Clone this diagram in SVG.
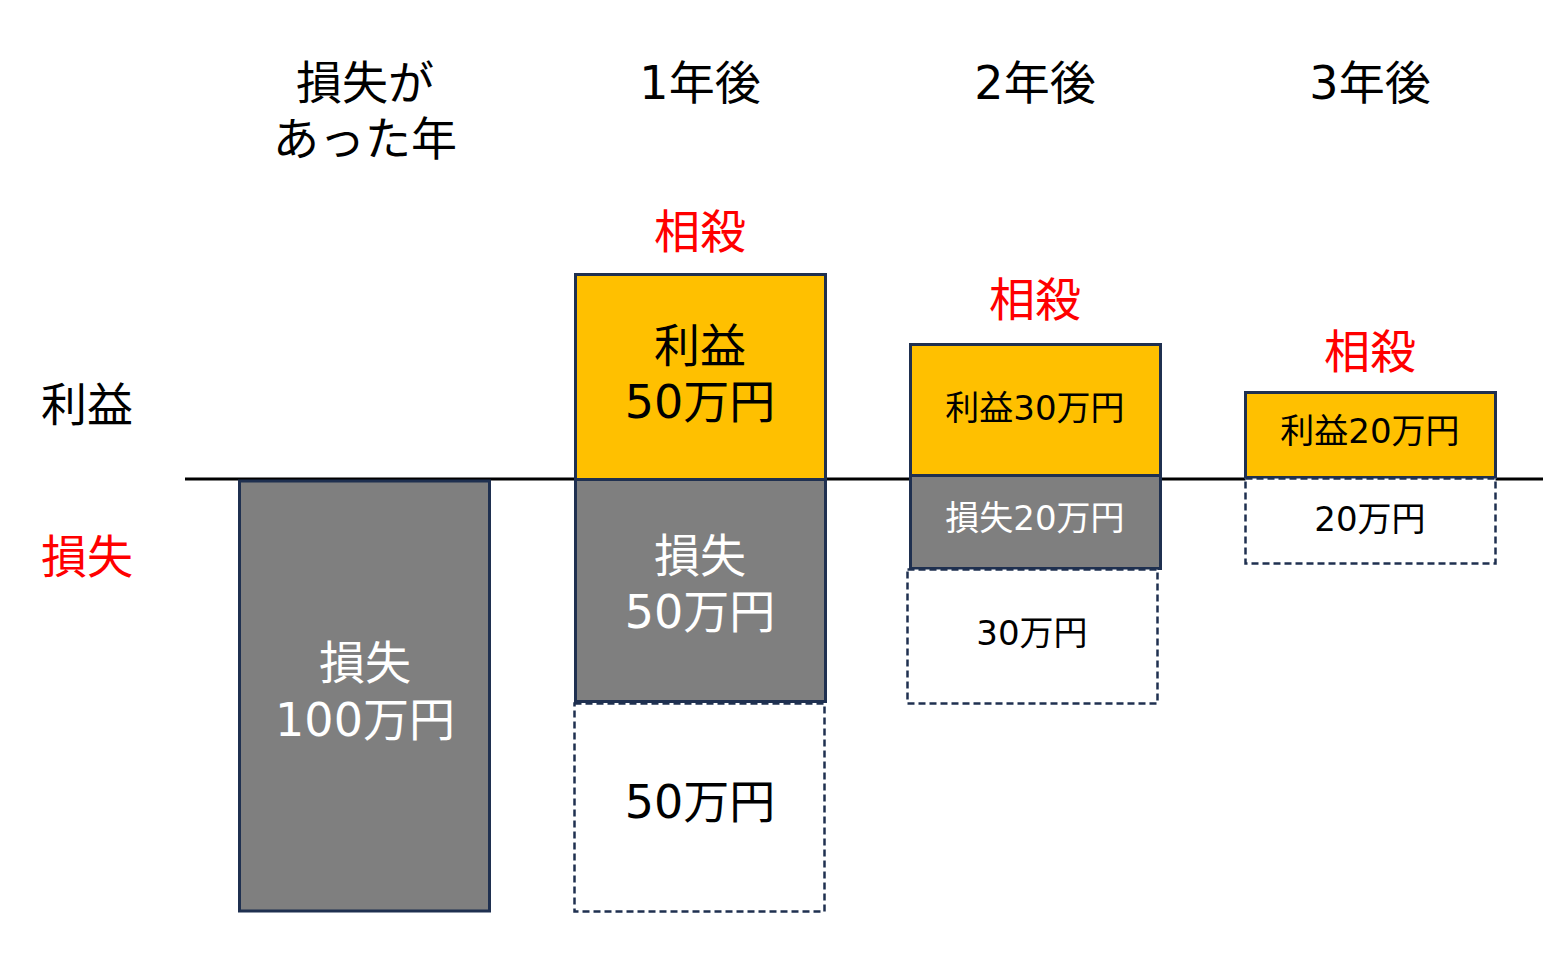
<svg xmlns="http://www.w3.org/2000/svg" width="1568" height="972" viewBox="0 0 1568 972">
<style>
text{font-family:"DejaVu Sans","Noto Sans CJK JP",sans-serif;text-anchor:middle}
.big{font-size:46px}
.sm{font-size:34px}
.blk{fill:#000}
.wht{fill:#fff}
.red{fill:#ff0000}
.gain{fill:#ffc000;stroke:#1f3050;stroke-width:3}
.loss{fill:#7f7f7f;stroke:#1f3050;stroke-width:3}
.rest{fill:#fff;stroke:#1f3050;stroke-width:2.5;stroke-dasharray:7 4}
</style>
<rect width="1568" height="972" fill="#fff"/>
<g id="headers">
<text class="big blk" x="365" y="99">損失が</text>
<text class="big blk" x="365" y="155">あった年</text>
<text class="big blk" x="700" y="99">1年後</text>
<text class="big blk" x="1035" y="99">2年後</text>
<text class="big blk" x="1370" y="99">3年後</text>
</g>
<g id="axis-labels">
<text class="big blk" x="87" y="421">利益</text>
<text class="big red" x="87" y="573">損失</text>
</g>
<g id="connectors">
<line x1="185" y1="479" x2="1543" y2="479" stroke="#000" stroke-width="3"/>
</g>
<g id="year0-loss">
<rect class="loss" x="239.5" y="481" width="250" height="430"/>
<text class="big wht" x="365" y="679">損失</text>
<text class="big wht" x="365" y="736">100万円</text>
</g>
<g id="year1-offset"><text class="big red" x="700" y="248">相殺</text></g>
<g id="year1-gain">
<rect class="gain" x="575.5" y="274.5" width="250" height="205"/>
<text class="big blk" x="700" y="362">利益</text>
<text class="big blk" x="700" y="418">50万円</text>
</g>
<g id="year1-loss">
<rect class="loss" x="575.5" y="479.5" width="250" height="222"/>
<text class="big wht" x="700" y="572">損失</text>
<text class="big wht" x="700" y="628">50万円</text>
</g>
<g id="year1-rest">
<rect class="rest" x="574.5" y="703.5" width="250" height="208"/>
<text class="big blk" x="700" y="818">50万円</text>
</g>
<g id="year2-offset"><text class="big red" x="1035" y="316">相殺</text></g>
<g id="year2-gain">
<rect class="gain" x="910.5" y="344.5" width="250" height="131"/>
<text class="sm blk" x="1035" y="420">利益30万円</text>
</g>
<g id="year2-loss">
<rect class="loss" x="910.5" y="475.5" width="250" height="93"/>
<text class="sm wht" x="1035" y="530">損失20万円</text>
</g>
<g id="year2-rest">
<rect class="rest" x="907.5" y="569.5" width="250" height="134"/>
<text class="sm blk" x="1032" y="645">30万円</text>
</g>
<g id="year3-offset"><text class="big red" x="1370" y="368">相殺</text></g>
<g id="year3-gain">
<rect class="gain" x="1245.5" y="392.5" width="250" height="85"/>
<text class="sm blk" x="1370" y="443">利益20万円</text>
</g>
<g id="year3-rest">
<rect class="rest" x="1245.5" y="478.5" width="250" height="85"/>
<text class="sm blk" x="1370" y="531">20万円</text>
</g>
</svg>
